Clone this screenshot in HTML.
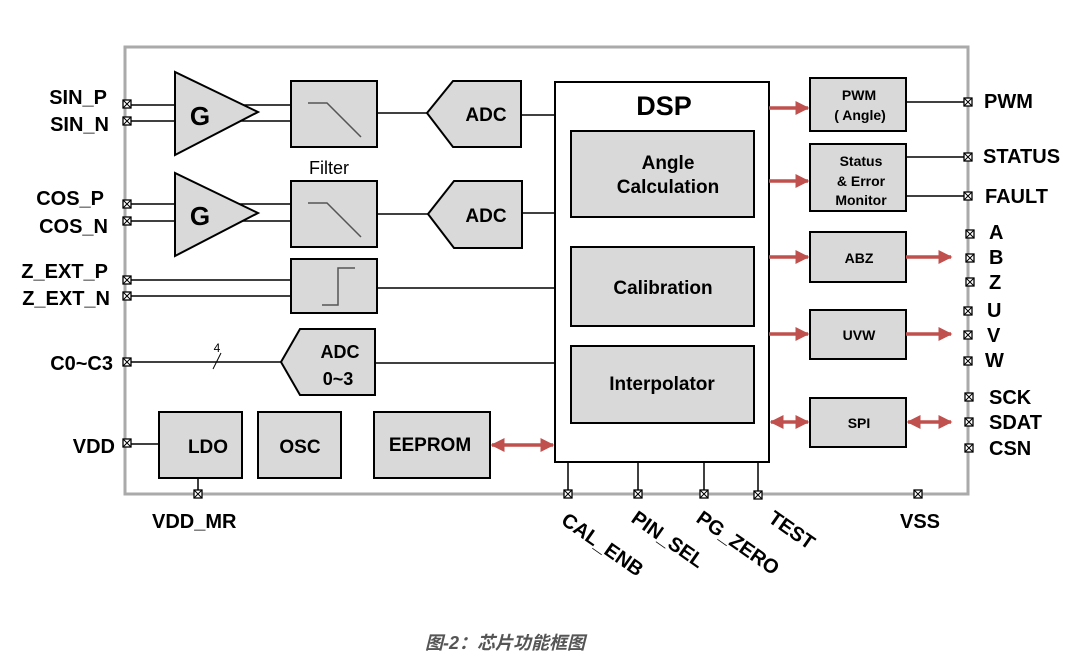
<!DOCTYPE html>
<html><head><meta charset="utf-8"><style>
html,body{margin:0;padding:0;background:#fff;}
svg{display:block;}
text{font-family:"Liberation Sans","Noto Sans CJK SC",sans-serif;font-weight:bold;fill:#000;}
.n{font-weight:normal;}
</style></head><body>
<svg width="1089" height="657" viewBox="0 0 1089 657" xmlns="http://www.w3.org/2000/svg">
<defs>
<marker id="ar" viewBox="0 0 10 10" refX="9" refY="5" markerWidth="4" markerHeight="4" orient="auto-start-reverse"><path d="M0,0 L10,5 L0,10 z" fill="#c0504d"/></marker>
<g id="pin"><rect x="-4" y="-4" width="8" height="8" fill="#fff" stroke="#000" stroke-width="1.3"/><path d="M-4,-4 L4,4 M4,-4 L-4,4" stroke="#000" stroke-width="1"/></g>
</defs>
<rect x="125" y="47" width="843" height="447" fill="none" stroke="#aaa" stroke-width="3"/>
<g stroke="#000" stroke-width="1.5" fill="none">
<line x1="127" y1="105" x2="175" y2="105"/><line x1="127" y1="121" x2="175" y2="121"/>
<line x1="225" y1="105" x2="291" y2="105"/><line x1="225" y1="121" x2="291" y2="121"/>
<line x1="377" y1="113" x2="427" y2="113"/><line x1="521" y1="115" x2="555" y2="115"/>
<line x1="127" y1="204" x2="175" y2="204"/><line x1="127" y1="221" x2="175" y2="221"/>
<line x1="225" y1="204" x2="291" y2="204"/><line x1="225" y1="221" x2="291" y2="221"/>
<line x1="377" y1="214" x2="428" y2="214"/><line x1="522" y1="213" x2="555" y2="213"/>
<line x1="127" y1="280" x2="291" y2="280"/><line x1="127" y1="296" x2="291" y2="296"/>
<line x1="377" y1="288" x2="555" y2="288"/>
<line x1="127" y1="362" x2="281" y2="362"/><line x1="375" y1="363" x2="555" y2="363"/>
<line x1="213" y1="369" x2="221" y2="353" stroke-width="1"/>
<line x1="127" y1="444" x2="159" y2="444"/><line x1="198" y1="478" x2="198" y2="494"/>
<line x1="568" y1="462" x2="568" y2="494"/><line x1="638" y1="462" x2="638" y2="494"/>
<line x1="704" y1="462" x2="704" y2="494"/><line x1="758" y1="462" x2="758" y2="494"/>
<line x1="906" y1="102" x2="968" y2="102"/><line x1="906" y1="157" x2="968" y2="157"/><line x1="906" y1="196" x2="968" y2="196"/>
</g>
<g fill="#d9d9d9" stroke="#000" stroke-width="2">
<polygon points="175,72 175,155 258,112"/>
<polygon points="175,173 175,256 258,213"/>
<rect x="291" y="81" width="86" height="66"/>
<rect x="291" y="181" width="86" height="66"/>
<rect x="291" y="259" width="86" height="54"/>
<polygon points="427,113 453,81 521,81 521,147 453,147"/>
<polygon points="428,214 454,181 522,181 522,248 454,248"/>
<polygon points="281,362 300,329 375,329 375,395 300,395"/>
<rect x="159" y="412" width="83" height="66"/>
<rect x="258" y="412" width="83" height="66"/>
<rect x="374" y="412" width="116" height="66"/>
<rect x="555" y="82" width="214" height="380" fill="#fff"/>
<rect x="571" y="131" width="183" height="86"/>
<rect x="571" y="247" width="183" height="79"/>
<rect x="571" y="346" width="183" height="77"/>
<rect x="810" y="78" width="96" height="53"/>
<rect x="810" y="144" width="96" height="67"/>
<rect x="810" y="232" width="96" height="50"/>
<rect x="810" y="310" width="96" height="49"/>
<rect x="810" y="398" width="96" height="49"/>
</g>
<g stroke="#555" stroke-width="1.5" fill="none">
<path d="M308,103 L327,103 L361,137"/><path d="M308,203 L327,203 L361,237"/>
<path d="M322,305 L338,305 L338,268 L355,268"/>
</g>
<g stroke="#c0504d" stroke-width="3.5" marker-end="url(#ar)">
<line x1="769" y1="108" x2="808" y2="108"/><line x1="769" y1="181" x2="808" y2="181"/>
<line x1="769" y1="257" x2="808" y2="257"/><line x1="769" y1="334" x2="808" y2="334"/>
<line x1="906" y1="257" x2="951" y2="257"/><line x1="906" y1="334" x2="951" y2="334"/>
<line x1="771" y1="422" x2="808" y2="422" marker-start="url(#ar)"/>
<line x1="908" y1="422" x2="951" y2="422" marker-start="url(#ar)"/>
<line x1="492" y1="445" x2="553" y2="445" marker-start="url(#ar)"/>
</g>
<g>
<use href="#pin" x="127" y="104"/><use href="#pin" x="127" y="121"/>
<use href="#pin" x="127" y="204"/><use href="#pin" x="127" y="221"/>
<use href="#pin" x="127" y="280"/><use href="#pin" x="127" y="296"/>
<use href="#pin" x="127" y="362"/><use href="#pin" x="127" y="443"/>
<use href="#pin" x="198" y="494"/><use href="#pin" x="568" y="494"/><use href="#pin" x="638" y="494"/>
<use href="#pin" x="704" y="494"/><use href="#pin" x="758" y="495"/><use href="#pin" x="918" y="494"/>
<use href="#pin" x="968" y="102"/><use href="#pin" x="968" y="157"/><use href="#pin" x="968" y="196"/>
<use href="#pin" x="970" y="234"/><use href="#pin" x="970" y="258"/><use href="#pin" x="970" y="282"/>
<use href="#pin" x="968" y="311"/><use href="#pin" x="968" y="335"/><use href="#pin" x="968" y="361"/>
<use href="#pin" x="969" y="397"/><use href="#pin" x="969" y="422"/><use href="#pin" x="969" y="448"/>
</g>
<g font-size="20" text-anchor="end">
<text x="107" y="104">SIN_P</text><text x="109" y="131">SIN_N</text>
<text x="104" y="205">COS_P</text><text x="108" y="233">COS_N</text>
<text x="108" y="278">Z_EXT_P</text><text x="110" y="305">Z_EXT_N</text>
<text x="113" y="370">C0~C3</text><text x="115" y="453">VDD</text>
</g>
<g font-size="20">
<text x="984" y="108">PWM</text><text x="983" y="163">STATUS</text><text x="985" y="203">FAULT</text>
<text x="989" y="239">A</text><text x="989" y="264">B</text><text x="989" y="289">Z</text>
<text x="987" y="317">U</text><text x="987" y="342">V</text><text x="985" y="367">W</text>
<text x="989" y="404">SCK</text><text x="989" y="429">SDAT</text><text x="989" y="455">CSN</text>
<text x="152" y="528">VDD_MR</text><text x="900" y="528">VSS</text>
<text transform="translate(560,523) rotate(35)">CAL_ENB</text>
<text transform="translate(630,521) rotate(35)">PIN_SEL</text>
<text transform="translate(695,521) rotate(35)">PG_ZERO</text>
<text transform="translate(767,521) rotate(35)">TEST</text>
</g>
<g text-anchor="middle">
<text x="200" y="125" font-size="26">G</text><text x="200" y="225" font-size="26">G</text>
<text x="329" y="174" font-size="18" class="n">Filter</text>
<text x="486" y="121" font-size="19">ADC</text><text x="486" y="222" font-size="19">ADC</text>
<text x="340" y="358" font-size="18">ADC</text><text x="338" y="385" font-size="18">0~3</text>
<text x="217" y="352" font-size="12" class="n">4</text>
<text x="208" y="453" font-size="19">LDO</text><text x="300" y="453" font-size="19">OSC</text>
<text x="430" y="451" font-size="19">EEPROM</text>
<text x="664" y="115" font-size="27">DSP</text>
<text x="668" y="169" font-size="19">Angle</text><text x="668" y="193" font-size="19">Calculation</text>
<text x="663" y="294" font-size="19">Calibration</text>
<text x="662" y="390" font-size="19">Interpolator</text>
<text x="859" y="100" font-size="14">PWM</text><text x="860" y="120" font-size="14">( Angle)</text>
<text x="861" y="166" font-size="14">Status</text><text x="861" y="186" font-size="14">&amp; Error</text><text x="861" y="205" font-size="14">Monitor</text>
<text x="859" y="263" font-size="14">ABZ</text><text x="859" y="340" font-size="14">UVW</text><text x="859" y="428" font-size="14">SPI</text>
</g>
<text x="425" y="649" font-size="18" font-style="italic" style="fill:#555">图-2：芯片功能框图</text>
</svg>
</body></html>
